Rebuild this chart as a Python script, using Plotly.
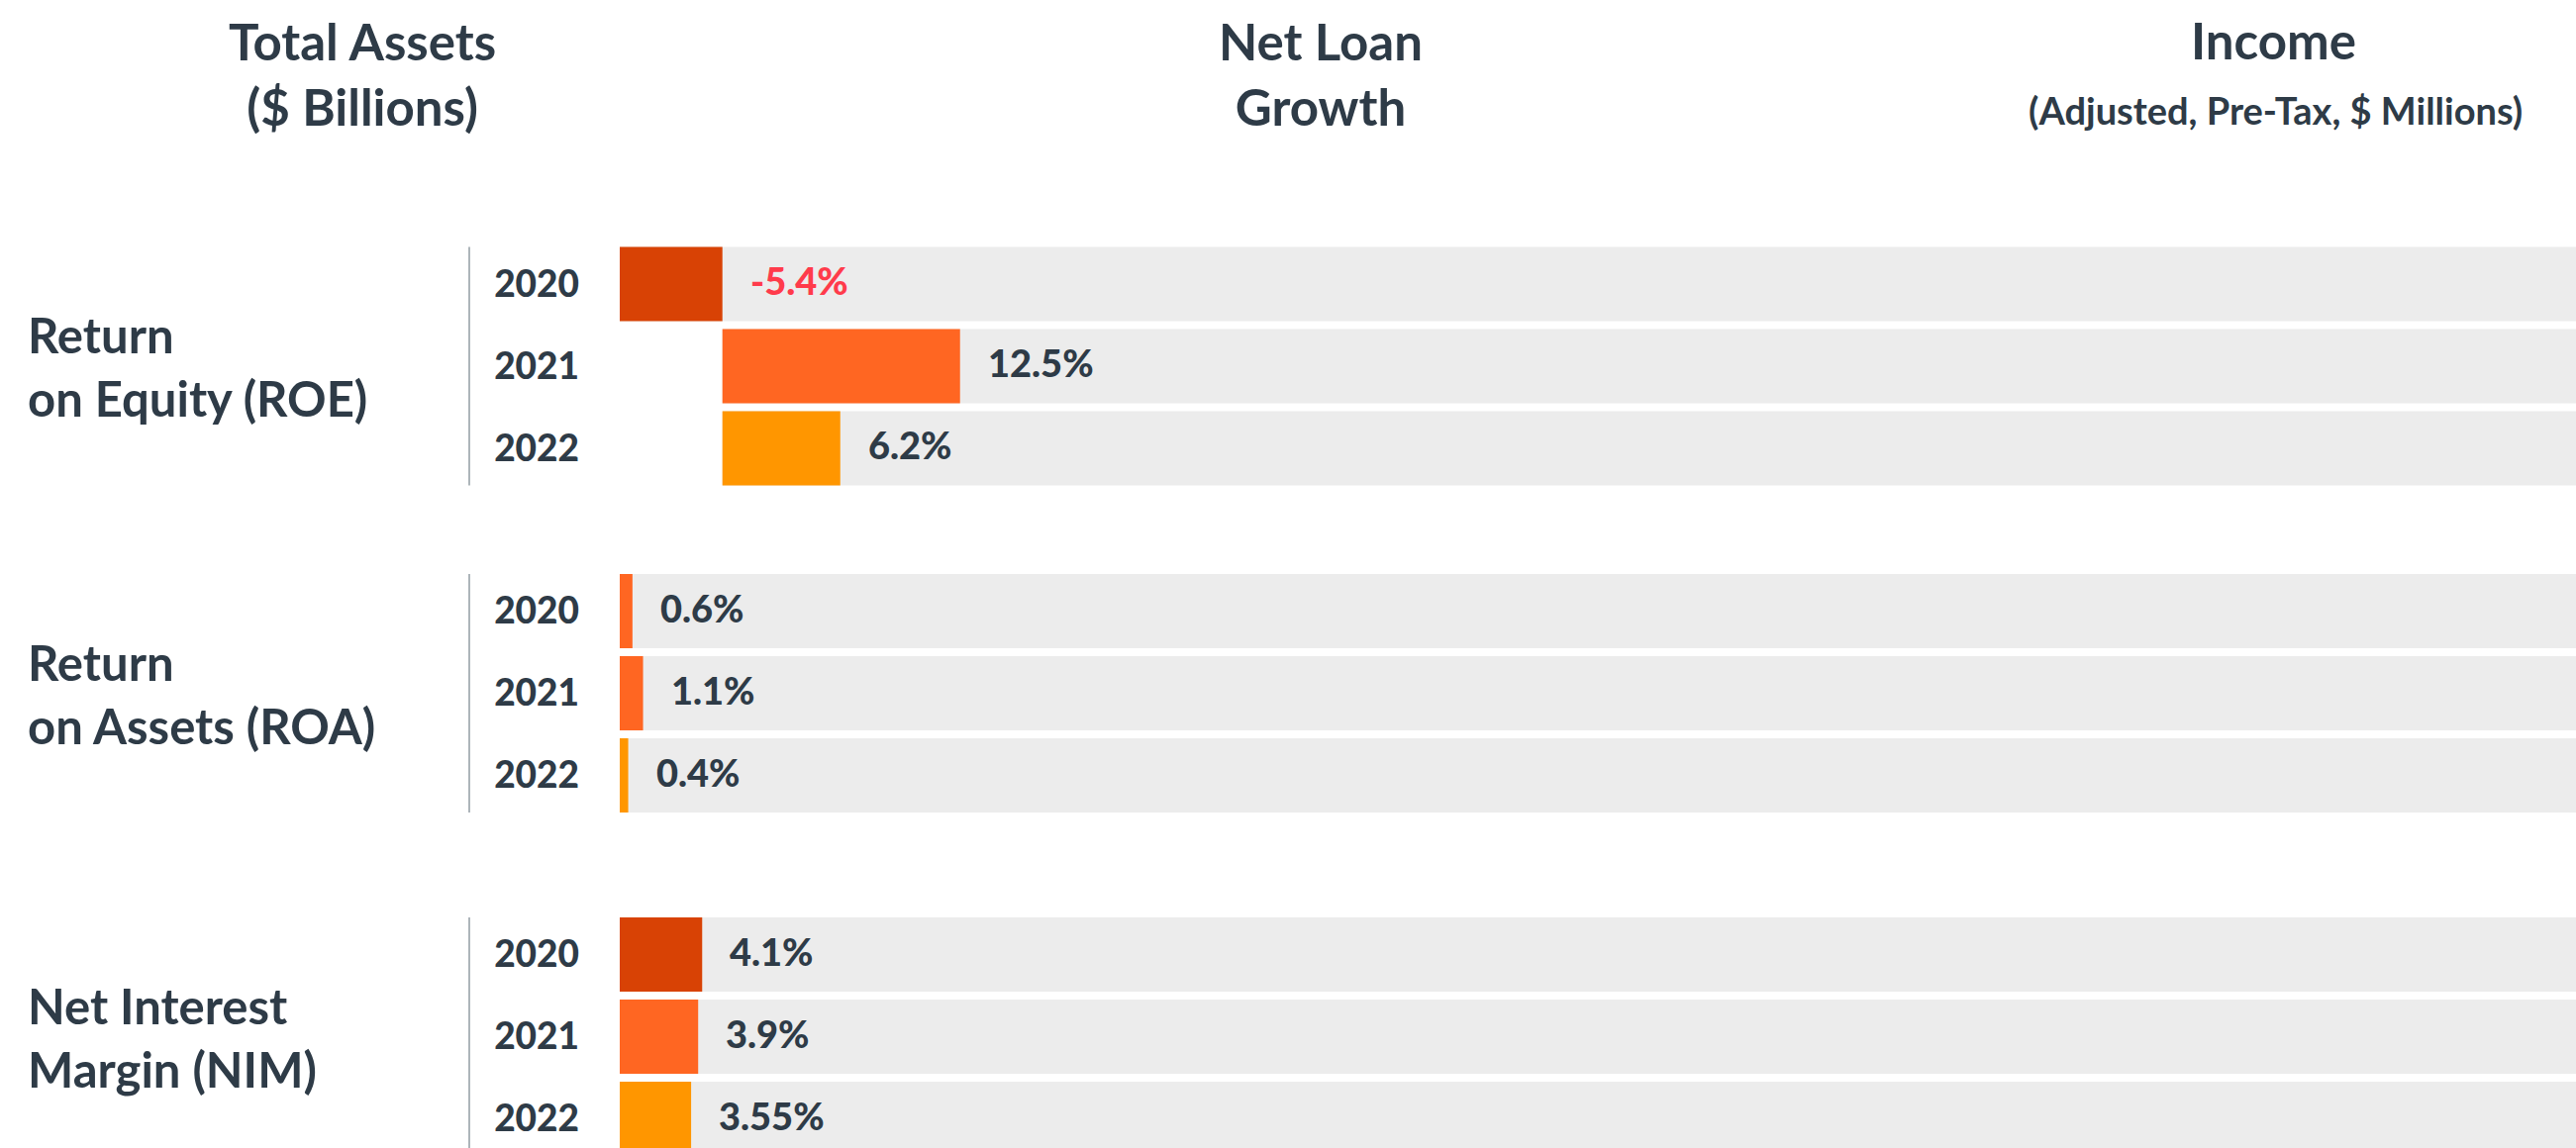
import plotly.graph_objects as go

# data
years = ["2020", "2021", "2022"]
metrics = ["Return<br>on Equity (ROE)", "Return<br>on Assets (ROA)", "Net Interest<br>Margin (NIM)"]
roe = [-5.4, 12.5, 6.2]
roa = [0.6, 1.1, 0.4]
nim = [4.1, 3.9, 3.55]
headers = ["Total Assets<br>($ Billions)", "Net Loan<br>Growth", "Income"]
income_note = "(Adjusted, Pre-Tax, $ Millions)"

# styling
TEXT = "#2E3B47"
NEG = "#FF3B4B"
TRACK = "#ECECEC"
DARK, ORANGE, AMBER = "#D84205", "#FF6622", "#FF9600"
panel_colors = [[DARK, ORANGE, AMBER], [ORANGE, ORANGE, AMBER], [DARK, ORANGE, AMBER]]
panel_xmax = [97.5, 92.3, 97.3]
panel_ydomain = [[0.5737, 0.7884], [0.2888, 0.5034], [0.0, 0.2043]]
panel_yrange = [[2.5, -0.5], [2.5, -0.5], [2.355, -0.5]]
FONT = "Lato"
W, H = 2602, 1160
X0 = 626 / W

fig = go.Figure()
annotations = []
shapes = []
ypos = list(range(len(years)))

for i, (vals, colors) in enumerate(zip([roe, roa, nim], panel_colors)):
    sfx = "" if i == 0 else str(i + 1)
    xa, ya = "x" + sfx, "y" + sfx
    xmin = min(0, min(vals))
    bases = [min(0, v) for v in vals]

    # grey track behind each bar
    fig.add_trace(go.Bar(
        y=ypos, x=[panel_xmax[i] - b for b in bases], base=bases,
        orientation="h", width=0.904, marker=dict(color=TRACK, line_width=0),
        xaxis=xa, yaxis=ya, hoverinfo="skip", showlegend=False))
    fig.add_trace(go.Bar(
        y=ypos, x=vals, orientation="h", width=0.904,
        marker=dict(color=colors, line_width=0),
        xaxis=xa, yaxis=ya, showlegend=False,
        hovertemplate="%{y}: %{x}%<extra></extra>"))

    for j, v in enumerate(vals):
        annotations.append(dict(
            x=max(v, 0), y=j, xref=xa, yref=ya, text=f"{v}%",
            xanchor="left", xshift=26, yshift=4, showarrow=False,
            font=dict(family=FONT, size=38, weight=900, color=NEG if v < 0 else TEXT)))

    annotations.append(dict(
        x=26 / W, xref="paper", y=1, yref=ya, text=metrics[i], align="left",
        xanchor="left", yanchor="middle", showarrow=False,
        font=dict(family=FONT, size=49, weight=700, color=TEXT)))

    shapes.append(dict(
        type="line", xref="paper", yref=ya, x0=474 / W, x1=474 / W,
        y0=-0.452, y1=2.452, line=dict(color="#ADB5BA", width=2)))

    fig.update_layout({
        "xaxis" + sfx: dict(domain=[X0, 1], range=[xmin, panel_xmax[i]], visible=False,
                            fixedrange=True),
        "yaxis" + sfx: dict(domain=panel_ydomain[i], range=panel_yrange[i],
                            tickvals=ypos, ticktext=years, showgrid=False, zeroline=False,
                            showline=False, ticks="", ticklabelstandoff=40,
                            tickfont=dict(family=FONT, size=37, weight=900, color=TEXT),
                            anchor=xa, fixedrange=True),
    })

for txt, x, y in zip(headers, [366, 1334, 2296], [0.936, 0.936, 0.9655]):
    annotations.append(dict(
        x=x / W, y=y, xref="paper", yref="paper", text=txt, showarrow=False,
        xanchor="center", yanchor="middle",
        font=dict(family=FONT, size=51, weight=700, color=TEXT)))
annotations.append(dict(
    x=2298 / W, y=0.9043, xref="paper", yref="paper", text=income_note, showarrow=False,
    xanchor="center", yanchor="middle",
    font=dict(family=FONT, size=38, weight=700, color=TEXT)))

fig.update_layout(
    width=W, height=H,
    margin=dict(l=0, r=0, t=0, b=0),
    barmode="overlay",
    plot_bgcolor="white", paper_bgcolor="white",
    annotations=annotations, shapes=shapes,
    showlegend=False,
)

# drop the default page margin so the figure sits flush in the window
fig.write_html("out.html", config={"displayModeBar": False},
               post_script="document.body.style.margin='0';")
